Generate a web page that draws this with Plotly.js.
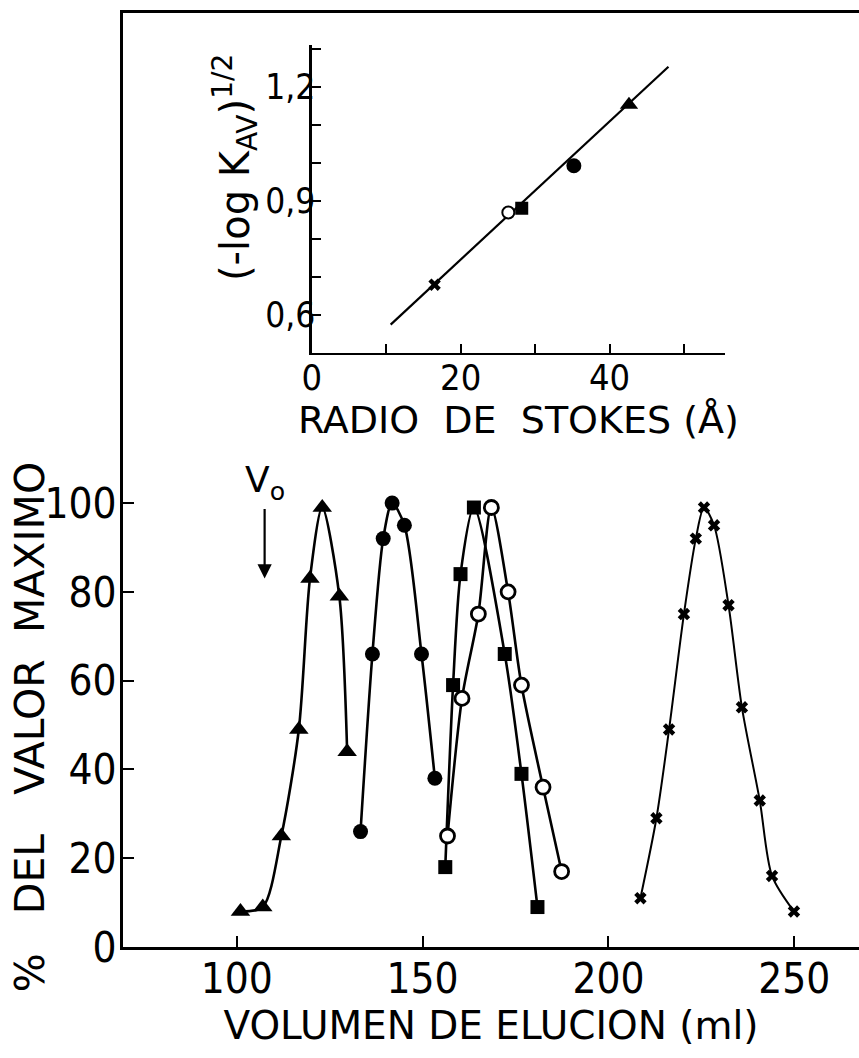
<!DOCTYPE html>
<html>
<head>
<meta charset="utf-8">
<script src="https://cdn.plot.ly/plotly-3.0.1.min.js"></script>
<style>
  html, body { margin: 0; padding: 0; background: #ffffff; }
  #chart { width: 859px; height: 1058px; }
</style>
</head>
<body>
<div id="chart"></div>
<script>
// ---- Main elution profiles (volume in ml, % of maximum) ----
const triangleVolume = [101, 107, 112, 116.7, 119.7, 123, 127.6, 129.7];
const triangleValue  = [8, 9, 25, 49, 83, 99, 79, 44];

const filledCircleVolume = [133.3, 136.5, 139.4, 141.8, 145.1, 149.7, 153.3];
const filledCircleValue  = [26, 66, 92, 100, 95, 66, 38];

const squareVolume = [156.1, 158.2, 160.2, 163.8, 172.1, 176.6, 180.9];
const squareValue  = [18, 59, 84, 99, 66, 39, 9];

const openCircleVolume = [156.7, 160.6, 165, 168.5, 173, 176.6, 182.4, 187.4];
const openCircleValue  = [25, 56, 75, 99, 80, 59, 36, 17];

const crossVolume = [208.6, 212.9, 216.3, 220.3, 223.5, 225.7, 228.4, 232.3, 235.9, 240.7, 244, 249.9];
const crossValue  = [11, 29, 49, 75, 92, 99, 95, 77, 54, 33, 16, 8];

// ---- Inset: Stokes radius (Å) vs (-log Kav)^1/2 ----
const insetTriangle     = {r: [42.6], k: [1.153]};
const insetFilledCircle = {r: [35.2], k: [0.992]};
const insetSquare       = {r: [28.2], k: [0.880]};
const insetOpenCircle   = {r: [26.4], k: [0.869]};
const insetCross        = {r: [16.5], k: [0.679]};
const fitRadius = [10.6, 47.9];
const fitKav    = [0.574, 1.253];

const voidVolume = 107.5;
const voidArrowFrom = 99;
const voidArrowTo = 83;

const yTicks = [0, 20, 40, 60, 80, 100];
const yTitleCenter = 49.5;

const TICKFONT = '"Liberation Sans Narrow", "DejaVu Sans Condensed", sans-serif';
const TITLEFONT = '"DejaVu Sans", "Liberation Sans", sans-serif';
const BLACK = '#000000';
const NB = '\u00a0';

const lineStyle = {color: BLACK, width: 2.6, shape: 'spline', smoothing: 0.8};

const traces = [
  {x: triangleVolume, y: triangleValue, mode: 'lines+markers', line: lineStyle,
   marker: {symbol: 'triangle-up', size: 17, color: BLACK}, xaxis: 'x', yaxis: 'y'},
  {x: filledCircleVolume, y: filledCircleValue, mode: 'lines+markers', line: lineStyle,
   marker: {symbol: 'circle', size: 15, color: BLACK}, xaxis: 'x', yaxis: 'y'},
  {x: squareVolume, y: squareValue, mode: 'lines+markers', line: lineStyle,
   marker: {symbol: 'square', size: 14, color: BLACK}, xaxis: 'x', yaxis: 'y'},
  {x: openCircleVolume, y: openCircleValue, mode: 'lines+markers', line: lineStyle,
   marker: {symbol: 'circle', size: 14, color: '#ffffff', line: {color: BLACK, width: 2.8}}, xaxis: 'x', yaxis: 'y'},
  {x: crossVolume, y: crossValue, mode: 'lines+markers',
   line: {color: BLACK, width: 2, shape: 'spline', smoothing: 0.8},
   marker: {symbol: 'x', size: 11, color: BLACK}, xaxis: 'x', yaxis: 'y'},

  {x: fitRadius, y: fitKav, mode: 'lines', line: {color: BLACK, width: 2.2}, xaxis: 'x2', yaxis: 'y2'},
  {x: insetCross.r, y: insetCross.k, mode: 'markers',
   marker: {symbol: 'x', size: 11, color: BLACK}, xaxis: 'x2', yaxis: 'y2'},
  {x: insetOpenCircle.r, y: insetOpenCircle.k, mode: 'markers',
   marker: {symbol: 'circle', size: 12, color: '#ffffff', line: {color: BLACK, width: 2}}, xaxis: 'x2', yaxis: 'y2'},
  {x: insetSquare.r, y: insetSquare.k, mode: 'markers',
   marker: {symbol: 'square', size: 13, color: BLACK}, xaxis: 'x2', yaxis: 'y2'},
  {x: insetFilledCircle.r, y: insetFilledCircle.k, mode: 'markers',
   marker: {symbol: 'circle', size: 15, color: BLACK}, xaxis: 'x2', yaxis: 'y2'},
  {x: insetTriangle.r, y: insetTriangle.k, mode: 'markers',
   marker: {symbol: 'triangle-up', size: 16, color: BLACK}, xaxis: 'x2', yaxis: 'y2'}
];

const layout = {
  width: 859,
  height: 1058,
  margin: {l: 123, r: 0, t: 13, b: 111},
  paper_bgcolor: '#ffffff',
  plot_bgcolor: '#ffffff',
  showlegend: false,
  separators: ',.',
  font: {family: TITLEFONT, color: BLACK, size: 36},
  xaxis: {
    domain: [0, 1],
    range: [69.4, 267.4],
    tickmode: 'linear', tick0: 0, dtick: 50,
    ticks: 'inside', ticklen: 11, tickwidth: 2, tickcolor: BLACK,
    ticklabelstandoff: -7,
    showline: true, linecolor: BLACK, linewidth: 3, mirror: true,
    showgrid: false, zeroline: false,
    tickfont: {family: TICKFONT, size: 42, color: BLACK},
    title: {text: 'VOLUMEN DE ELUCION (ml)', font: {family: TITLEFONT, size: 39, color: BLACK}, standoff: 0},
    fixedrange: true
  },
  yaxis: {
    domain: [0, 1],
    range: [0, 210.4],
    tickmode: 'array', tickvals: yTicks, ticktext: yTicks.map(String),
    ticks: 'inside', ticklen: 11, tickwidth: 2, tickcolor: BLACK,
    ticklabelstandoff: -5,
    showline: true, linecolor: BLACK, linewidth: 3,
    showgrid: false, zeroline: false,
    tickfont: {family: TICKFONT, size: 42, color: BLACK},
    fixedrange: true
  },
  xaxis2: {
    domain: [0.2564, 0.818],
    anchor: 'y2',
    range: [0, 55.5],
    tickmode: 'linear', tick0: 0, dtick: 20,
    minor: {dtick: 10, tick0: 0, ticks: 'inside', ticklen: 9, tickwidth: 2, tickcolor: BLACK},
    ticks: 'inside', ticklen: 9, tickwidth: 2, tickcolor: BLACK,
    ticklabelstandoff: -8,
    showline: true, linecolor: BLACK, linewidth: 2.5,
    showgrid: false, zeroline: false,
    tickfont: {family: TICKFONT, size: 36, color: BLACK},
    title: {text: 'RADIO' + NB + ' DE' + NB + ' STOKES (Å)', font: {family: TITLEFONT, size: 38, color: BLACK}, standoff: 0},
    fixedrange: true
  },
  yaxis2: {
    domain: [0.6363, 0.9657],
    anchor: 'x2',
    range: [0.5, 1.31],
    tickmode: 'linear', tick0: 0.6, dtick: 0.3, tickformat: '.1f',
    minor: {dtick: 0.1, tick0: 0.5, ticks: 'inside', ticklen: 9, tickwidth: 2, tickcolor: BLACK},
    ticks: 'inside', ticklen: 9, tickwidth: 2, tickcolor: BLACK,
    ticklabelstandoff: -13,
    showline: true, linecolor: BLACK, linewidth: 2.5,
    showgrid: false, zeroline: false,
    tickfont: {family: TICKFONT, size: 35, color: BLACK},
    fixedrange: true
  },
  annotations: [
    {xref: 'paper', yref: 'y', x: -0.1264, y: yTitleCenter, xanchor: 'center', yanchor: 'middle',
     textangle: -90, showarrow: false,
     text: '%' + NB + NB + ' DEL' + NB + NB + ' VALOR' + NB + ' MAXIMO',
     font: {family: TITLEFONT, size: 41, color: BLACK}},
    {xref: 'paper', yref: 'paper', x: 0.152, y: 0.835, xanchor: 'center', yanchor: 'middle',
     textangle: -90, showarrow: false,
     text: '(-log K<sub>AV</sub>)<sup>1/2</sup>',
     font: {family: TITLEFONT, size: 40, color: BLACK}},
    {x: voidVolume, y: voidArrowTo, ax: voidVolume, ay: voidArrowFrom, xref: 'x', yref: 'y', axref: 'x', ayref: 'y',
     text: '', showarrow: true, arrowhead: 2, arrowsize: 1.3, arrowwidth: 2.2, arrowcolor: BLACK},
    {x: voidVolume, y: voidArrowFrom, xref: 'x', yref: 'y', yanchor: 'bottom', xanchor: 'center',
     text: 'V<sub>o</sub>', showarrow: false, font: {family: TITLEFONT, size: 36, color: BLACK}}
  ]
};

Plotly.newPlot('chart', traces, layout, {displayModeBar: false, staticPlot: true});
</script>
</body>
</html>
